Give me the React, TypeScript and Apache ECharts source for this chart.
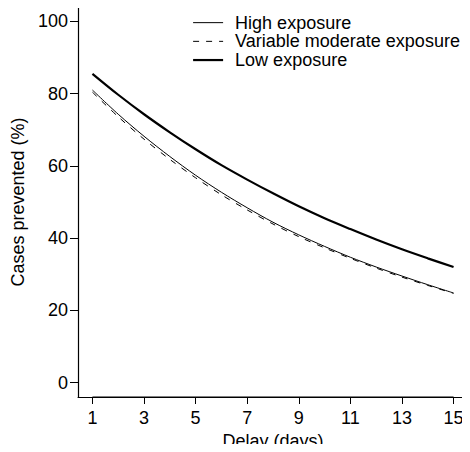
import React, { useEffect, useRef } from "react";
import * as echarts from "echarts";

const days = [1, 2, 3, 4, 5, 6, 7, 8, 9, 10, 11, 12, 13, 14, 15];
const highExposure = [81.0, 74.3, 68.2, 62.6, 57.4, 52.7, 48.4, 44.4, 40.9, 37.7, 34.7, 32.0, 29.5, 27.1, 24.8];
const variableModerate = [80.4, 73.6, 67.4, 61.8, 56.7, 52.0, 47.8, 43.9, 40.4, 37.3, 34.4, 31.7, 29.2, 26.9, 24.7];
const lowExposure = [85.5, 79.7, 74.3, 69.3, 64.6, 60.2, 56.2, 52.4, 48.8, 45.5, 42.5, 39.6, 36.9, 34.4, 32.0];
const xTicks = [1, 3, 5, 7, 9, 11, 13, 15];
const yTicks = [0, 20, 40, 60, 80, 100];
const seriesNames = ["High exposure", "Variable moderate exposure", "Low exposure"];

const FONT = "'Liberation Sans', Arial, Helvetica, sans-serif";

export default function App() {
  const ref = useRef<HTMLDivElement>(null);
  useEffect(() => {
    if (!ref.current) return;
    const chart = echarts.init(ref.current, null, { renderer: "svg" });
    const pair = (vals: number[]) => days.map((d, i) => [d, vals[i]]);
    chart.setOption({
      animation: false,
      textStyle: { fontFamily: FONT, color: "#000" },
      grid: { left: 78, top: 7, right: 2, bottom: 55, containLabel: false, outerBoundsMode: "none" },
      legend: {
        orient: "vertical",
        left: 192,
        top: 13.3,
        padding: 0,
        itemWidth: 30,
        itemHeight: 14,
        itemGap: 0,
        data: [
          { name: seriesNames[0], lineStyle: { width: 1, type: "solid", color: "#000" } },
          { name: seriesNames[1], lineStyle: { width: 1, type: [6, 7], color: "#000" } },
          { name: seriesNames[2], lineStyle: { width: 2.2, type: "solid", color: "#000" } },
        ],
        itemStyle: { color: "rgba(0,0,0,0)", borderColor: "rgba(0,0,0,0)", borderWidth: 0, opacity: 0 },
        textStyle: { fontFamily: FONT, fontSize: 18, color: "#000", lineHeight: 18.7, padding: [0, 0, 0, 7] },
        selectedMode: false,
      },
      xAxis: {
        type: "value",
        min: 0.44,
        max: 15.56,
        name: "Delay (days)",
        nameLocation: "middle",
        nameGap: 34,
        nameTextStyle: { fontFamily: FONT, fontSize: 18, color: "#000" },
        axisLine: { show: true, onZero: false, lineStyle: { color: "#000", width: 1 } },
        axisTick: { show: true, length: 7, customValues: xTicks, lineStyle: { color: "#000", width: 1 } },
        axisLabel: { customValues: xTicks, fontFamily: FONT, fontSize: 18, color: "#000", margin: 12 },
        splitLine: { show: false },
      },
      yAxis: {
        type: "value",
        min: -4,
        max: 104,
        name: "Cases prevented (%)",
        nameLocation: "middle",
        nameRotate: 90,
        nameGap: 49,
        nameTextStyle: { fontFamily: FONT, fontSize: 18, color: "#000" },
        axisLine: { show: true, onZero: false, lineStyle: { color: "#000", width: 1.2 } },
        axisTick: { show: true, length: 8, customValues: yTicks, lineStyle: { color: "#000", width: 1 } },
        axisLabel: { customValues: yTicks, fontFamily: FONT, fontSize: 18, color: "#000", margin: 10 },
        splitLine: { show: false },
      },
      series: [
        {
          name: seriesNames[0],
          type: "line",
          data: pair(highExposure),
          smooth: 0.3,
          symbol: "none",
          lineStyle: { color: "#000", width: 1 },
          itemStyle: { color: "#000" },
        },
        {
          name: seriesNames[1],
          type: "line",
          data: pair(variableModerate),
          smooth: 0.3,
          symbol: "none",
          lineStyle: { color: "#000", width: 1, type: [6, 7] },
          itemStyle: { color: "#000" },
        },
        {
          name: seriesNames[2],
          type: "line",
          data: pair(lowExposure),
          smooth: 0.3,
          symbol: "none",
          lineStyle: { color: "#000", width: 2.2 },
          itemStyle: { color: "#000" },
        },
        {
          name: "axisSegment",
          type: "line",
          data: [[xTicks[0], -4], [xTicks[xTicks.length - 1], -4]],
          symbol: "none",
          silent: true,
          clip: false,
          lineStyle: { color: "#000", width: 1.2 },
        },
      ],
    });
    return () => chart.dispose();
  }, []);
  return <div ref={ref} style={{ width: 470, height: 452, margin: -8 }} />;
}
